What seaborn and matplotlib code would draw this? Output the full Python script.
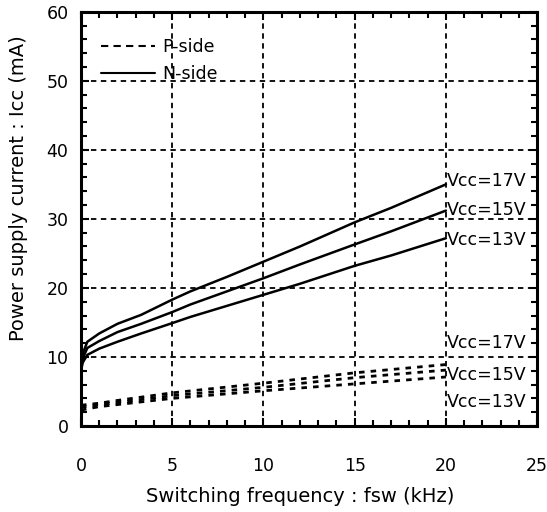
import matplotlib
matplotlib.use("Agg")
import matplotlib.pyplot as plt
import seaborn as sns
import pandas as pd
from matplotlib.ticker import MultipleLocator
from matplotlib.lines import Line2D

sns.set_theme(style="white")
plt.rcParams['font.family'] = ['DejaVu Sans']
plt.rcParams.update({'text.color': 'black', 'axes.labelcolor': 'black',
                     'xtick.color': 'black', 'ytick.color': 'black'})

# N-side (solid) data
freq_n = [0, 0.1, 0.35, 1, 2, 3.3, 5, 6, 8, 10, 12, 15, 17, 20]
n_17 = [8.5, 10.5, 12.2, 13.4, 14.8, 16.1, 18.3, 19.5, 21.6, 23.8, 26.0, 29.5, 31.6, 35.0]
n_15 = [8.3, 9.8, 11.3, 12.3, 13.6, 14.8, 16.5, 17.6, 19.5, 21.4, 23.4, 26.3, 28.2, 31.2]
n_13 = [8.0, 9.2, 10.3, 11.2, 12.2, 13.4, 14.9, 15.8, 17.4, 19.0, 20.6, 23.2, 24.7, 27.2]

# P-side (dashed) data
freq_p = [0, 1, 2, 5, 10, 15, 20]
p_17 = [3.0, 3.3, 3.7, 4.8, 6.2, 7.7, 8.9]
p_15 = [2.7, 3.1, 3.4, 4.4, 5.6, 7.0, 8.1]
p_13 = [2.3, 2.8, 3.1, 4.0, 5.1, 6.1, 7.1]

vcc_labels = ["Vcc=17V", "Vcc=15V", "Vcc=13V"]
n_label_y = [35.5, 31.3, 26.9]
p_label_y = [12.0, 7.4, 3.5]

rows = []
for lab, ys in zip(vcc_labels, [n_17, n_15, n_13]):
    for f, v in zip(freq_n, ys):
        rows.append(dict(freq=f, icc=v, side="N-side", vcc=lab))
for lab, ys in zip(vcc_labels, [p_17, p_15, p_13]):
    for f, v in zip(freq_p, ys):
        rows.append(dict(freq=f, icc=v, side="P-side", vcc=lab))
df = pd.DataFrame(rows)

FS = 12.5
LFS = 14

fig = plt.figure(figsize=(5.47, 5.12), dpi=100)
ax = fig.add_axes([0.148, 0.168, 0.834, 0.809])

for lab in vcc_labels:
    sub = df[(df.side == "N-side") & (df.vcc == lab)]
    sns.lineplot(data=sub, x="freq", y="icc", ax=ax, color="black", lw=1.8,
                 estimator=None, sort=False, legend=False)
    sub = df[(df.side == "P-side") & (df.vcc == lab)]
    sns.lineplot(data=sub, x="freq", y="icc", ax=ax, color="black", lw=2.0,
                 estimator=None, sort=False, legend=False, dashes=False,
                 linestyle=(0, (2.0, 2.2)))

ax.set_xlim(0, 25)
ax.set_ylim(0, 60)
ax.xaxis.set_major_locator(MultipleLocator(5))
ax.xaxis.set_minor_locator(MultipleLocator(1))
ax.yaxis.set_major_locator(MultipleLocator(10))
ax.yaxis.set_minor_locator(MultipleLocator(2))
ax.tick_params(which='both', direction='in', top=True, right=True, bottom=True, left=True,
               color='black', width=1.5)
ax.tick_params(which='major', length=6)
ax.tick_params(which='minor', length=4)
ax.tick_params(axis='x', which='major', pad=22, labelsize=FS, labelcolor='black')
ax.tick_params(axis='y', which='major', pad=9, labelsize=FS, labelcolor='black')
ax.grid(True, which='major', color='black', linestyle=(0, (3, 2.5)), lw=1.3)
for s in ax.spines.values():
    s.set_color('black')
    s.set_linewidth(2.2)

ax.set_xlabel("Switching frequency : fsw (kHz)", fontsize=LFS, color='black')
ax.set_ylabel("Power supply current : Icc (mA)", fontsize=LFS, color='black')
ax.xaxis.set_label_coords(0.48, -0.171)
ax.yaxis.set_label_coords(-0.138, 0.575)
ax.xaxis.label.set_va('center')
ax.yaxis.label.set_va('center')

for lab, yv in zip(vcc_labels, n_label_y):
    ax.text(20.05, yv, lab, fontsize=FS, va='center', ha='left', color='black')
for lab, yv in zip(vcc_labels, p_label_y):
    ax.text(20.05, yv, lab, fontsize=FS, va='center', ha='left', color='black')

handles = [Line2D([], [], color='black', lw=1.5, linestyle=(0, (3.5, 2.5))),
           Line2D([], [], color='black', lw=1.5)]
leg = ax.legend(handles, ["P-side", "N-side"], loc='upper left', frameon=False, fontsize=FS,
                bbox_to_anchor=(0.01, 0.975), handlelength=3.1, handletextpad=0.4,
                labelspacing=0.55)
for t in leg.get_texts():
    t.set_color('black')

fig.savefig("out.png", dpi=100)
